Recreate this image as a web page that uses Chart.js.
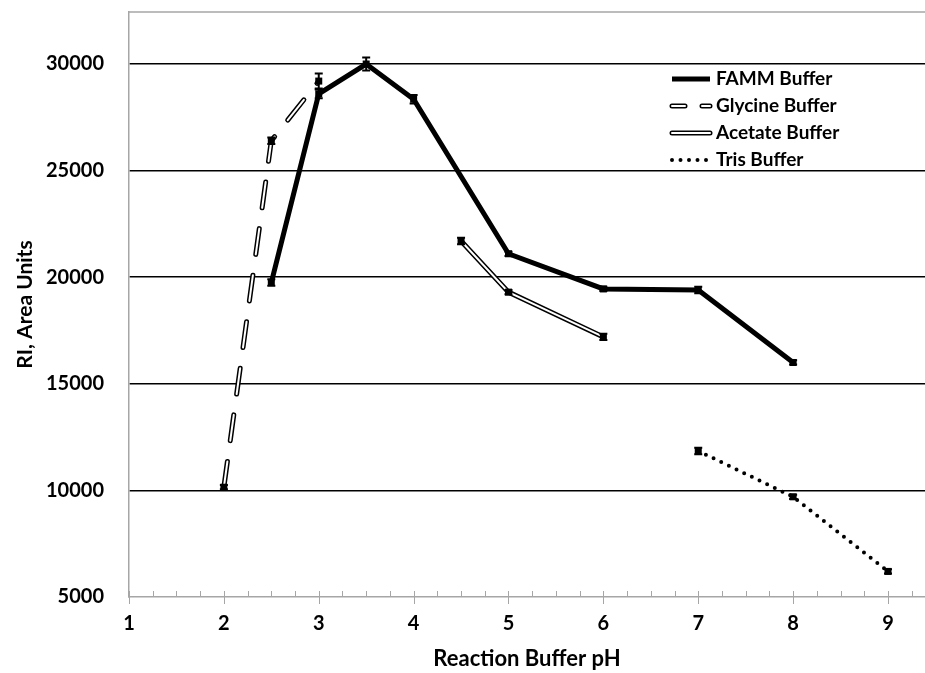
<!DOCTYPE html>
<html>
<head>
<meta charset="utf-8">
<script src="https://cdn.jsdelivr.net/npm/chart.js@4/dist/chart.umd.min.js"></script>
<style>
html,body{margin:0;padding:0;background:#fff;}
canvas{display:block;}
</style>
</head>
<body>
<canvas id="c" width="925" height="673"></canvas>
<script>
// ---- data ----
const xTicks = [1, 2, 3, 4, 5, 6, 7, 8, 9];
const yTicks = [5000, 10000, 15000, 20000, 25000, 30000];

const fammPH = [2.5, 3, 3.5, 4, 5, 6, 7, 8];
const fammRI = [19750, 28600, 30000, 28350, 21100, 19450, 19400, 16000];
const fammErr = [150, 200, 300, 200, 100, 100, 150, 100];

const glycinePH = [2, 2.5, 3];
const glycineRI = [10150, 26400, 29200];
const glycineErr = [100, 150, 350];

const acetatePH = [4.5, 5, 6];
const acetateRI = [21700, 19300, 17200];
const acetateErr = [150, 100, 150];

const trisPH = [7, 8, 9];
const trisRI = [11850, 9700, 6200];
const trisErr = [150, 100, 100];

const seriesNames = ['FAMM Buffer', 'Glycine Buffer', 'Acetate Buffer', 'Tris Buffer'];

const pts = (xs, ys) => xs.map((x, i) => ({x: x, y: ys[i]}));

const FONT = 'Lato, "Open Sans", "DejaVu Sans", sans-serif';
const GLY_DASH = [26, 21];

const datasets = [
  {label: seriesNames[0], data: pts(fammPH, fammRI), errors: fammErr, borderColor: '#000', borderWidth: 5,
   pointRadius: 0, order: 5, legendStyle: {dash: [], width: 5}},
  {label: seriesNames[1], data: pts(glycinePH, glycineRI), errors: glycineErr, borderColor: '#000', borderWidth: 5,
   borderDash: GLY_DASH, borderCapStyle: 'round', pointRadius: 0, order: 4, legendStyle: {dash: [13, 17], width: 5, cap: 'round', inner: 2}},
  {label: '_inner', data: pts(glycinePH, glycineRI), borderColor: '#fff', borderWidth: 2,
   borderDash: GLY_DASH, borderCapStyle: 'round', pointRadius: 0, order: 3},
  {label: seriesNames[2], data: pts(acetatePH, acetateRI), errors: acetateErr, borderColor: '#000', borderWidth: 5,
   pointRadius: 0, order: 4, legendStyle: {dash: [], width: 5, cap: 'round', inner: 2}},
  {label: '_inner', data: pts(acetatePH, acetateRI), borderColor: '#fff', borderWidth: 2,
   pointRadius: 0, order: 3},
  {label: seriesNames[3], data: pts(trisPH, trisRI), errors: trisErr, borderColor: '#000', borderWidth: 4,
   borderDash: [0, 8.5], borderCapStyle: 'round', pointRadius: 0, order: 4, legendStyle: {dash: [0, 8.5], width: 4, cap: 'round'}}
];

const decorPlugin = {
  id: 'decor',
  beforeDatasetsDraw(chart) {
    const ctx = chart.ctx, a = chart.chartArea, xs = chart.scales.x;
    ctx.save();
    ctx.strokeStyle = '#a6a6a6';
    ctx.lineWidth = 1.5;
    ctx.beginPath(); ctx.moveTo(a.left, a.top); ctx.lineTo(a.right, a.top); ctx.stroke();
    ctx.lineWidth = 1;
    for (let v = xs.min; v <= xs.max + 1e-9; v += 0.25) {
      const px = Math.round(xs.getPixelForValue(v)) + 0.5;
      const major = Math.abs(v - Math.round(v)) < 1e-6;
      ctx.beginPath();
      ctx.moveTo(px, a.bottom - 6);
      ctx.lineTo(px, a.bottom + (major ? 7 : 0));
      ctx.stroke();
    }
    ctx.restore();
  },
  afterDatasetsDraw(chart) {
    const ctx = chart.ctx, ys = chart.scales.y;
    ctx.save();
    chart.data.datasets.forEach((ds, i) => {
      if (!ds.errors) return;
      const meta = chart.getDatasetMeta(i);
      meta.data.forEach((pt, j) => {
        const v = ds.data[j].y, e = ds.errors[j];
        const yt = ys.getPixelForValue(v + e), yb = ys.getPixelForValue(v - e);
        ctx.strokeStyle = '#000';
        ctx.lineWidth = 2;
        ctx.beginPath();
        ctx.moveTo(pt.x, yt); ctx.lineTo(pt.x, yb);
        ctx.moveTo(pt.x - 4, yt); ctx.lineTo(pt.x + 4, yt);
        ctx.moveTo(pt.x - 4, yb); ctx.lineTo(pt.x + 4, yb);
        ctx.stroke();
        ctx.fillStyle = '#000';
        ctx.fillRect(pt.x - 3.5, pt.y - 3.5, 7, 7);
      });
    });
    ctx.restore();
  },
  afterDraw(chart) {
    const ctx = chart.ctx;
    const x0 = 672, x1 = 710, tx = 716;
    const rows = [79, 106, 133, 160];
    ctx.save();
    let r = 0;
    chart.data.datasets.forEach(ds => {
      if (!ds.legendStyle) return;
      const y = rows[r++];
      const s = ds.legendStyle;
      ctx.strokeStyle = '#000';
      ctx.lineWidth = s.width;
      ctx.lineCap = s.cap || 'butt';
      ctx.setLineDash(s.dash);
      ctx.beginPath(); ctx.moveTo(x0, y); ctx.lineTo(x1, y); ctx.stroke();
      if (s.inner) {
        ctx.strokeStyle = '#fff';
        ctx.lineWidth = s.inner;
        ctx.beginPath(); ctx.moveTo(x0, y); ctx.lineTo(x1, y); ctx.stroke();
      }
      ctx.setLineDash([]);
      ctx.fillStyle = '#000';
      ctx.font = 'bold 19px ' + FONT;
      ctx.textBaseline = 'middle';
      ctx.textAlign = 'left';
      ctx.fillText(ds.label, tx, y);
    });
    ctx.restore();
  }
};

new Chart(document.getElementById('c'), {
  type: 'line',
  data: {datasets: datasets},
  options: {
    responsive: false,
    animation: false,
    devicePixelRatio: 1,
    layout: {padding: {top: 12, right: 0, left: 0, bottom: 0}},
    plugins: {legend: {display: false}, tooltip: {enabled: false}},
    scales: {
      x: {
        type: 'linear', min: 1, max: 9.39,
        afterBuildTicks: s => { s.ticks = xTicks.map(v => ({value: v})); },
        afterFit: s => { s.height = 76; s.paddingLeft = 0; s.paddingRight = 0; },
        grid: {drawOnChartArea: false, drawTicks: false},
        border: {color: '#a6a6a6', width: 1.5},
        ticks: {color: '#000', font: {family: FONT, size: 20, weight: 'bold'}, padding: 15, maxRotation: 0,
                callback: v => String(v)},
        title: {display: true, text: 'Reaction Buffer pH', color: '#000',
                font: {family: FONT, size: 22, weight: 'bold', lineHeight: 1}, padding: {top: 0, bottom: 3}}
      },
      y: {
        type: 'linear', min: 5000, max: 32440,
        afterBuildTicks: s => { s.ticks = yTicks.map(v => ({value: v})); },
        afterFit: s => { s.width = 129; s.paddingTop = 0; s.paddingBottom = 0; },
        grid: {drawTicks: false, lineWidth: 1.5,
               color: c => (c.tick && c.tick.value === 5000) ? 'rgba(0,0,0,0)' : '#000'},
        border: {color: '#a6a6a6', width: 1.5},
        ticks: {color: '#000', font: {family: FONT, size: 20, weight: 'bold'}, padding: 25,
                callback: v => String(v)},
        title: {display: true, text: 'RI, Area Units', color: '#000',
                font: {family: FONT, size: 21, weight: 'bold', lineHeight: 1}, padding: {top: 15, bottom: 0}}
      }
    }
  },
  plugins: [decorPlugin]
});
</script>
</body>
</html>
